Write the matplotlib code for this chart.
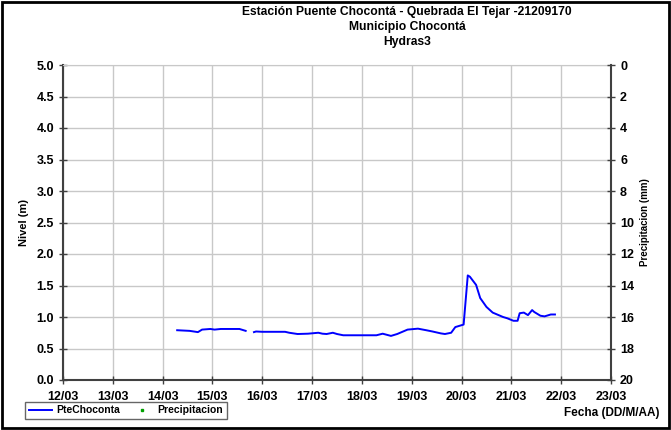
import numpy as np
import pandas as pd
import matplotlib
matplotlib.use('Agg')
import matplotlib.pyplot as plt
import matplotlib.dates as mdates
from matplotlib.lines import Line2D
from matplotlib.patches import Rectangle

plt.rcParams['font.family'] = ['Liberation Sans', 'DejaVu Sans']
plt.rcParams['font.weight'] = 'bold'

# horas desde 12/03 00:00 y nivel (m); NaN = hueco en el registro
horas = [55, 61, 65, 67, 71, 73, 76, 80, 85, 88,
         90,
         92, 93, 96, 107, 109, 113, 118, 123, 125, 127, 130, 132, 135,
         151, 154, 158, 161, 166, 171, 175, 178, 182, 184, 187, 189, 192,
         193, 195, 196, 199, 201, 204, 207, 212, 214, 217, 219, 220, 222,
         224, 226, 227, 230, 232, 235, 237]
nivel = [0.79, 0.78, 0.76, 0.80, 0.81, 0.80, 0.81, 0.81, 0.81, 0.78,
         np.nan,
         0.76, 0.77, 0.765, 0.765, 0.75, 0.73, 0.735, 0.75, 0.735, 0.73, 0.75, 0.73, 0.71,
         0.71, 0.735, 0.70, 0.73, 0.80, 0.815, 0.79, 0.77, 0.74, 0.73, 0.75, 0.84, 0.87,
         0.88, 1.66, 1.64, 1.51, 1.30, 1.16, 1.07, 1.00, 0.98, 0.94, 0.94, 1.06, 1.07,
         1.03, 1.11, 1.08, 1.02, 1.01, 1.04, 1.04]
precip = []  # sin datos de precipitacion

inicio = pd.Timestamp('2012-03-12')
fechas = inicio + pd.to_timedelta(horas, unit='h')

fig = plt.figure(figsize=(6.71, 4.30), dpi=100)
ax = fig.add_axes([63/671, 50/430, 548/671, 315/430])

ax.plot(fechas, nivel, color='#0000FF', lw=1.4)

ax.set_xlim(inicio, inicio + pd.Timedelta(days=11))
ax.set_ylim(0, 5)
ax.set_yticks(np.arange(0, 5.01, 0.5))
ax.yaxis.set_major_formatter(matplotlib.ticker.FormatStrFormatter('%.1f'))
ax.xaxis.set_major_locator(mdates.DayLocator())
ax.xaxis.set_major_formatter(mdates.DateFormatter('%d/%m'))
ax.grid(True, color='#c8c8c8', lw=1)
ax.tick_params(labelsize=9, direction='inout', length=6, width=1, color='#404040')
ax.tick_params(axis='x', pad=5)
for lab in ax.get_xticklabels() + ax.get_yticklabels():
    lab.set_fontweight('bold')
ax.set_ylabel('Nivel (m)', fontsize=8, fontweight='bold', labelpad=5)
for s in ['left', 'right', 'bottom']:
    ax.spines[s].set_color('#404040')
    ax.spines[s].set_linewidth(1.5)
ax.spines['top'].set_color('#c8c8c8')

ax2 = ax.twinx()
ax2.plot([], [], 's', color='#00a000', ms=2)
ax2.set_ylim(20, 0)
ax2.set_yticks(np.arange(0, 21, 2))
ax2.tick_params(labelsize=9, direction='inout', length=6, width=1, color='#404040')
for lab in ax2.get_yticklabels():
    lab.set_fontweight('bold')
ax2.set_ylabel('Precipitacion (mm)', fontsize=7, fontweight='bold')
for s in ['left', 'right', 'bottom', 'top']:
    ax2.spines[s].set_visible(False)

fig.text(407/671, 1 - 27/430, 'Estación Puente Chocontá - Quebrada El Tejar -21209170\nMunicipio Chocontá\nHydras3',
         ha='center', va='center', fontsize=8.7, fontweight='bold', linespacing=1.3)
fig.text(660/671, 1 - 413/430, 'Fecha (DD/M/AA)', ha='right', va='center', fontsize=8.5, fontweight='bold')

handles = [Line2D([], [], color='#0000FF', lw=1.4),
           Line2D([], [], ls='none', marker='s', color='#00a000', ms=2)]
leg = fig.legend(handles, ['PteChoconta', 'Precipitacion'], loc='lower left',
                 bbox_to_anchor=(20/671, 6/430), ncol=2, fontsize=7.5, frameon=True,
                 fancybox=False, edgecolor='#404040', handlelength=2.2,
                 borderpad=0.35, columnspacing=1.0, handletextpad=0.4)
leg.get_frame().set_linewidth(1)
for t in leg.get_texts():
    t.set_fontweight('bold')

fig.patches.append(Rectangle((0.003, 0.004), 0.994, 0.992, transform=fig.transFigure,
                             fill=False, edgecolor='black', lw=2))

fig.savefig('out.png', dpi=100)
